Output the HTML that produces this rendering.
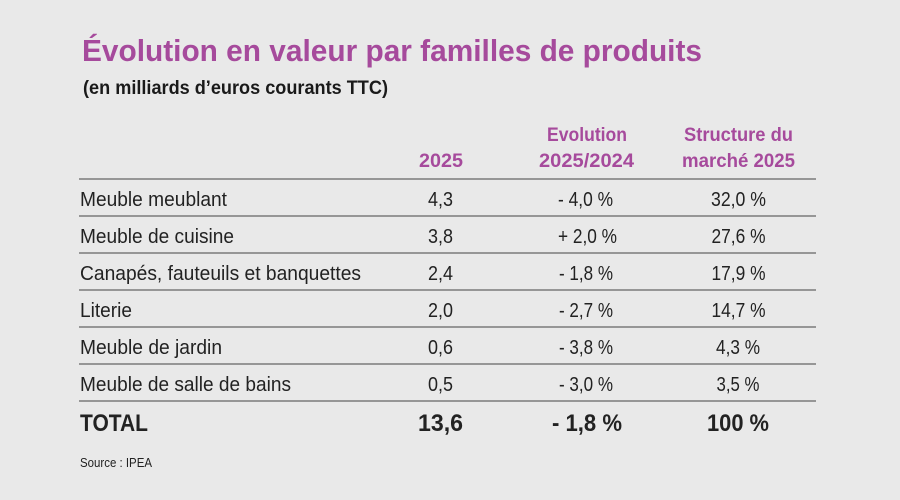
<!DOCTYPE html>
<html>
<head>
<meta charset="utf-8">
<style>
  html, body { margin: 0; padding: 0; background: #e9e9e9; }
  svg { display: block; }
  text { font-family: "Liberation Sans", "DejaVu Sans", sans-serif; }
  .t { font-weight: bold; fill: #a64a9c; }
  .h { font-weight: bold; fill: #a64a9c; font-size: 19.5px; text-anchor: middle; }
  .r { fill: #222; font-size: 20px; }
  .v { fill: #222; font-size: 20px; text-anchor: middle; }
  .b { fill: #222; font-size: 24px; font-weight: bold; }
</style>
</head>
<body>
<svg width="900" height="500" viewBox="0 0 900 500" xmlns="http://www.w3.org/2000/svg">
  <rect width="900" height="500" fill="#e9e9e9"/>
  <text class="t" x="82" y="61" font-size="31" textLength="620" lengthAdjust="spacingAndGlyphs">Évolution en valeur par familles de produits</text>
  <text x="83" y="94" font-size="19" font-weight="bold" fill="#1a1a1a" textLength="305" lengthAdjust="spacingAndGlyphs">(en milliards d’euros courants TTC)</text>

  <text class="h" x="441" y="167" textLength="44" lengthAdjust="spacingAndGlyphs">2025</text>
  <text class="h" x="587" y="141" textLength="80" lengthAdjust="spacingAndGlyphs">Evolution</text>
  <text class="h" x="586.5" y="167" textLength="95" lengthAdjust="spacingAndGlyphs">2025/2024</text>
  <text class="h" x="738.5" y="141" textLength="109" lengthAdjust="spacingAndGlyphs">Structure du</text>
  <text class="h" x="738.5" y="167" textLength="113" lengthAdjust="spacingAndGlyphs">marché 2025</text>

  <g stroke="#969696" stroke-width="2">
    <line x1="79" y1="179" x2="816" y2="179"/>
    <line x1="79" y1="216" x2="816" y2="216"/>
    <line x1="79" y1="253" x2="816" y2="253"/>
    <line x1="79" y1="290" x2="816" y2="290"/>
    <line x1="79" y1="327" x2="816" y2="327"/>
    <line x1="79" y1="364" x2="816" y2="364"/>
    <line x1="79" y1="401" x2="816" y2="401"/>
  </g>

  <text class="r" x="80" y="206" textLength="147" lengthAdjust="spacingAndGlyphs">Meuble meublant</text>
  <text class="v" x="440.5" y="206" textLength="25" lengthAdjust="spacingAndGlyphs">4,3</text>
  <text class="v" x="585.5" y="206" textLength="55" lengthAdjust="spacingAndGlyphs">- 4,0 %</text>
  <text class="v" x="738.5" y="206" textLength="55" lengthAdjust="spacingAndGlyphs">32,0 %</text>

  <text class="r" x="80" y="243" textLength="154" lengthAdjust="spacingAndGlyphs">Meuble de cuisine</text>
  <text class="v" x="440.5" y="243" textLength="25" lengthAdjust="spacingAndGlyphs">3,8</text>
  <text class="v" x="587.5" y="243" textLength="59" lengthAdjust="spacingAndGlyphs">+ 2,0 %</text>
  <text class="v" x="738.5" y="243" textLength="54" lengthAdjust="spacingAndGlyphs">27,6 %</text>

  <text class="r" x="80" y="280" textLength="281" lengthAdjust="spacingAndGlyphs">Canapés, fauteuils et banquettes</text>
  <text class="v" x="440.5" y="280" textLength="25" lengthAdjust="spacingAndGlyphs">2,4</text>
  <text class="v" x="586" y="280" textLength="54" lengthAdjust="spacingAndGlyphs">- 1,8 %</text>
  <text class="v" x="738.5" y="280" textLength="54" lengthAdjust="spacingAndGlyphs">17,9 %</text>

  <text class="r" x="80" y="317" textLength="52" lengthAdjust="spacingAndGlyphs">Literie</text>
  <text class="v" x="440.5" y="317" textLength="25" lengthAdjust="spacingAndGlyphs">2,0</text>
  <text class="v" x="586" y="317" textLength="54" lengthAdjust="spacingAndGlyphs">- 2,7 %</text>
  <text class="v" x="738.5" y="317" textLength="54" lengthAdjust="spacingAndGlyphs">14,7 %</text>

  <text class="r" x="80" y="354" textLength="142" lengthAdjust="spacingAndGlyphs">Meuble de jardin</text>
  <text class="v" x="440.5" y="354" textLength="25" lengthAdjust="spacingAndGlyphs">0,6</text>
  <text class="v" x="586" y="354" textLength="54" lengthAdjust="spacingAndGlyphs">- 3,8 %</text>
  <text class="v" x="738" y="354" textLength="44" lengthAdjust="spacingAndGlyphs">4,3 %</text>

  <text class="r" x="80" y="391" textLength="211" lengthAdjust="spacingAndGlyphs">Meuble de salle de bains</text>
  <text class="v" x="440.5" y="391" textLength="25" lengthAdjust="spacingAndGlyphs">0,5</text>
  <text class="v" x="586" y="391" textLength="54" lengthAdjust="spacingAndGlyphs">- 3,0 %</text>
  <text class="v" x="738" y="391" textLength="43" lengthAdjust="spacingAndGlyphs">3,5 %</text>

  <text class="b" x="80" y="431" textLength="68" lengthAdjust="spacingAndGlyphs">TOTAL</text>
  <text class="b" x="418" y="431" textLength="45" lengthAdjust="spacingAndGlyphs">13,6</text>
  <text class="b" x="552" y="431" textLength="70" lengthAdjust="spacingAndGlyphs">- 1,8 %</text>
  <text class="b" x="707" y="431" textLength="62" lengthAdjust="spacingAndGlyphs">100 %</text>

  <text x="80" y="467" font-size="13" fill="#222" textLength="72" lengthAdjust="spacingAndGlyphs">Source : IPEA</text>
</svg>
</body>
</html>
